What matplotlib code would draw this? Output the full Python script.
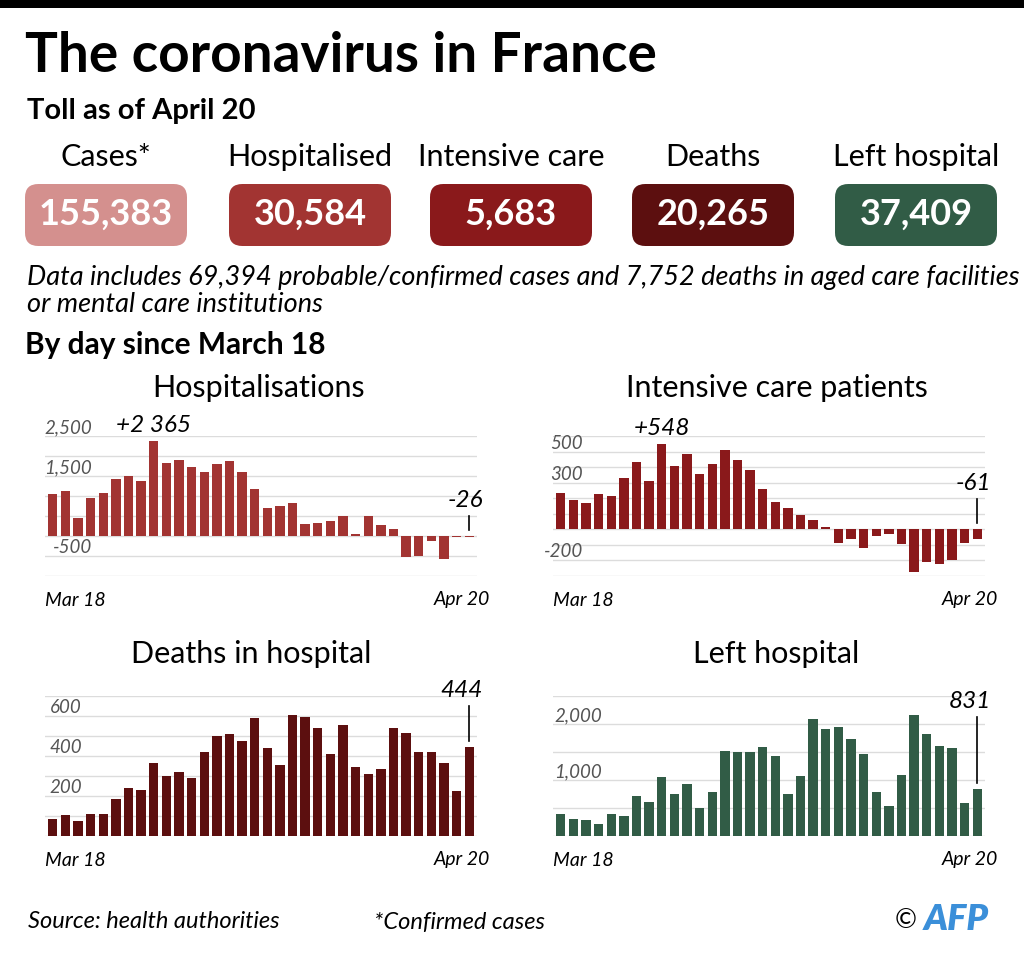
import matplotlib
matplotlib.use("Agg")
import matplotlib.pyplot as plt
from matplotlib.patches import FancyBboxPatch, Rectangle
import numpy as np

plt.rcParams['font.family'] = ['Lato', 'DejaVu Sans']

W, H = 1024, 956

# --- data ---
box_labels = ["Cases*", "Hospitalised", "Intensive care", "Deaths", "Left hospital"]
box_values = ["155,383", "30,584", "5,683", "20,265", "37,409"]
box_colors = ["#d4908e", "#a23432", "#8a191b", "#5c0f0f", "#315c46"]

hosp = [1040, 1130, 460, 940, 1070, 1430, 1500, 1370, 2365, 1830, 1890, 1730,
        1590, 1810, 1880, 1610, 1180, 700, 740, 825, 290, 335, 385, 490,
        40, 490, 275, 175, -525, -490, -125, -565, -30, -26]
icu = [232, 190, 172, 226, 217, 332, 430, 309, 548, 409, 484, 358,
       421, 507, 447, 379, 260, 175, 136, 92, 57, 15, -85, -62,
       -121, -40, -28, -92, -277, -211, -224, -198, -89, -61]
deaths = [87, 107, 77, 112, 112, 187, 240, 232, 365, 298, 318, 292,
          418, 498, 510, 473, 588, 442, 357, 607, 597, 542, 412, 555,
          345, 310, 335, 542, 515, 418, 418, 363, 227, 444]
left = [399, 298, 280, 220, 387, 363, 714, 613, 1047, 750, 922, 506,
        791, 1523, 1500, 1500, 1583, 1434, 744, 1065, 2088, 1916, 1952, 1726,
        1464, 791, 530, 1083, 2154, 1821, 1607, 1565, 595, 831]
date_first, date_last = "Mar 18", "Apr 20"

fig = plt.figure(figsize=(W / 100, H / 100), dpi=100)


def fx(px):
    return px / W


def fy(py):
    return 1 - py / H


# top black rule
fig.add_artist(Rectangle((0, fy(8)), 1, 8 / H, transform=fig.transFigure,
                         color="black", lw=0))

fig.text(fx(25), fy(56), "The coronavirus in France", fontsize=39.5,
         fontweight="bold", va="center", ha="left")
fig.text(fx(27), fy(111), "Toll as of April 20", fontsize=21,
         fontweight="bold", va="center", ha="left")

box_x = [25, 229, 430, 632, 835]
for x, lab, val, col in zip(box_x, box_labels, box_values, box_colors):
    cx = x + 81
    fig.text(fx(cx), fy(157), lab, fontsize=22, ha="center", va="center")
    fig.add_artist(FancyBboxPatch((fx(x), fy(246)), 162 / W, 62 / H,
                                  boxstyle="round,pad=0,rounding_size=0.013",
                                  transform=fig.transFigure, color=col, lw=0,
                                  mutation_aspect=W / H))
    fig.text(fx(cx), fy(214), val, fontsize=26, ha="center", va="center",
             color="white", fontweight="bold")

fig.text(fx(27), fy(277),
         "Data includes 69,394 probable/confirmed cases and 7,752 deaths in aged care facilities",
         fontsize=19.5, style="italic", ha="left", va="center")
fig.text(fx(27), fy(304), "or mental care institutions",
         fontsize=19.5, style="italic", ha="left", va="center")
fig.text(fx(25), fy(345), "By day since March 18", fontsize=21.5,
         fontweight="bold", ha="left", va="center")


def panel(left_px, top_px, values, color, ymin, ymax, step, labeled, lab_right,
          title, title_xy, callout, line_px, peak_idx=None):
    right_px = left_px + 432
    height_px = 140
    bottom_px = top_px + height_px
    ax = fig.add_axes([fx(left_px), fy(bottom_px), 432 / W, height_px / H])
    n = len(values)
    x = np.arange(n)
    ax.bar(x, values, width=0.74, color=color, zorder=2)
    ax.set_xlim(-0.62, n - 0.38)
    ax.set_ylim(ymin, ymax)
    for g in np.arange(ymin, ymax + step / 2, step):
        ax.axhline(g, color="#dcdcdc", lw=1, zorder=1)
    ax.axis("off")
    for v in labeled:
        ax.text(lab_right / 432, v, f"{v:,}", transform=ax.get_yaxis_transform(),
                ha="right", va="bottom", fontsize=13.5, style="italic",
                color="#555555", zorder=3)
    fig.text(fx(title_xy[0]), fy(title_xy[1]), title,
             fontsize=22, ha="center", va="center")
    fig.text(fx(left_px), fy(bottom_px + 24), date_first, fontsize=14,
             style="italic", ha="left", va="center")
    fig.text(fx(right_px + 13), fy(bottom_px + 24), date_last, fontsize=14,
             style="italic", ha="right", va="center")

    per_px = (ymax - ymin) / height_px
    slot_px = 432 / (n + 0.24)
    # callout on the last bar
    i = n - 1
    top = max(values[i], 0)
    y0 = top + 6 * per_px
    y1 = y0 + line_px * per_px
    ax.plot([i, i], [y0, y1], color="black", lw=1.2, zorder=3)
    ax.text(i + 14 / slot_px, y1 + 5 * per_px, callout, ha="right",
            va="bottom", fontsize=17.5, style="italic", zorder=3, clip_on=False)
    if peak_idx is not None:
        pv = values[peak_idx]
        ax.text(peak_idx, pv + 5 * per_px, f"+{pv:,}".replace(",", " "),
                ha="center", va="bottom", fontsize=17.5, style="italic",
                zorder=3, clip_on=False)
    return ax


panel(45, 436, hosp, box_colors[1], -1000, 2500, 500, [2500, 1500, -500], 47,
      "Hospitalisations", (259, 388), "-26", 14, peak_idx=8)
panel(553, 436, icu, box_colors[2], -300, 600, 100, [500, 300, -200], 30,
      "Intensive care patients", (777, 388), "-61", 24, peak_idx=8)
panel(45, 696, deaths, box_colors[3], 0, 700, 100, [600, 400, 200], 37,
      "Deaths in hospital", (251, 654), "444", 35)
panel(553, 696, left, box_colors[4], 0, 2500, 500, [2000, 1000], 49,
      "Left hospital", (776, 654), "831", 66)

fig.text(fx(28), fy(922), "Source: health authorities", fontsize=17,
         style="italic", ha="left", va="center")
fig.text(fx(374), fy(922), "*Confirmed cases", fontsize=17,
         style="italic", ha="left", va="center")
fig.text(fx(895), fy(921), "\u00a9", fontsize=19, ha="left", va="center")
fig.text(fx(924), fy(919), "AFP", fontsize=26, fontweight="heavy",
         style="italic", color="#3b8fd9", ha="left", va="center")

fig.savefig("out.png", dpi=100)
